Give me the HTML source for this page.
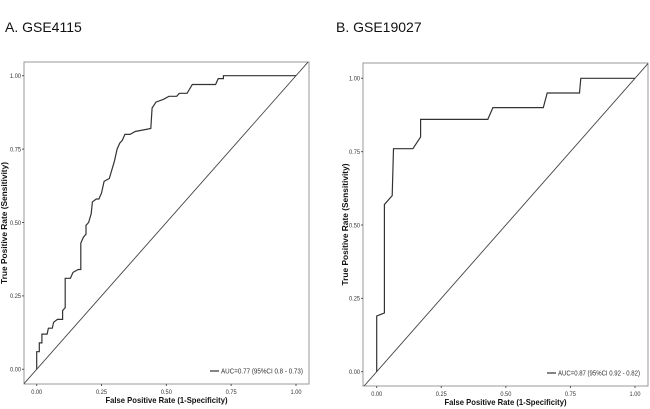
<!DOCTYPE html>
<html><head><meta charset="utf-8"><style>
body{margin:0;background:#fff;width:650px;height:409px;overflow:hidden;font-family:"Liberation Sans",sans-serif}
svg{position:absolute;left:0;top:0}
</style></head><body>
<svg id="chart" width="650" height="409" xmlns="http://www.w3.org/2000/svg"></svg>
<script>
const fprA=[0,0,0.01,0.01,0.02,0.02,0.04,0.045,0.06,0.065,0.08,0.1,0.1,0.11,0.11,0.13,0.14,0.16,0.17,0.17,0.18,0.19,0.19,0.2,0.21,0.215,0.23,0.24,0.25,0.26,0.28,0.29,0.3,0.31,0.32,0.33,0.34,0.36,0.38,0.44,0.445,0.46,0.49,0.51,0.54,0.55,0.58,0.6,0.69,0.7,0.72,0.72,1];
const tprA=[0,0.06,0.06,0.09,0.09,0.12,0.12,0.14,0.14,0.16,0.17,0.17,0.2,0.21,0.31,0.31,0.33,0.34,0.34,0.43,0.45,0.46,0.49,0.5,0.53,0.57,0.58,0.58,0.6,0.64,0.65,0.68,0.71,0.75,0.77,0.78,0.8,0.8,0.81,0.82,0.89,0.91,0.92,0.93,0.93,0.94,0.94,0.97,0.97,0.99,0.99,1,1];
const fprB=[0,0,0.03,0.03,0.06,0.065,0.14,0.17,0.17,0.43,0.45,0.645,0.66,0.785,0.79,1];
const tprB=[0,0.19,0.2,0.57,0.6,0.76,0.76,0.8,0.86,0.86,0.9,0.9,0.95,0.95,1,1];
const ticks=[0,0.25,0.5,0.75,1];
const tickLabels=["0.00","0.25","0.50","0.75","1.00"];
const NS="http://www.w3.org/2000/svg";
const svg=document.getElementById('chart');
function mk(tag,attrs,parent){const e=document.createElementNS(NS,tag);for(const k in attrs)e.setAttribute(k,attrs[k]);(parent||svg).appendChild(e);return e;}
function panel(p){
  const g=mk('g',{});
  
  
  const sx=v=>p.x0+(p.x1-p.x0)*v, sy=v=>p.y0+(p.y1-p.y0)*v;
  const t=mk('text',{x:p.tx,y:32,'font-size':14,fill:'#111'},g);t.textContent=p.title;
  
  
  const box=mk('rect',{x:p.L,y:p.T,width:p.R-p.L,height:p.B-p.T,fill:'none',stroke:'#999','stroke-width':1},g);
  
  
  const cp=mk('clipPath',{id:'c'+p.id},g);mk('rect',{x:p.L,y:p.T,width:p.R-p.L,height:p.B-p.T},cp);
  const ext=-0.2,ext2=1.2;
  const d=mk('line',{x1:sx(ext),y1:sy(ext),x2:sx(ext2),y2:sy(ext2),stroke:'#444','stroke-width':0.9,'clip-path':'url(#c'+p.id+')'},g);
  
  
  ticks.forEach((v,i)=>{
    mk('line',{x1:sx(v),x2:sx(v),y1:p.B,y2:p.B+2,stroke:'#555'},g);
    const a=mk('text',{x:sx(v),y:p.B+10,'font-size':6.5,'text-anchor':'middle',fill:'#333',textLength:11,lengthAdjust:'spacingAndGlyphs'},g);a.textContent=tickLabels[i];
    
    
    mk('line',{x1:p.L-2,x2:p.L,y1:sy(v),y2:sy(v),stroke:'#555'},g);
    const b=mk('text',{x:p.L-3,y:sy(v)+2.3,'font-size':6.5,'text-anchor':'end',fill:'#333',textLength:11,lengthAdjust:'spacingAndGlyphs'},g);b.textContent=tickLabels[i];
    
    
  });
  const xt=mk('text',{x:(p.L+p.R)/2,y:p.B+19,'font-size':8.5,'font-weight':'bold','text-anchor':'middle',fill:'#111',textLength:122,lengthAdjust:'spacingAndGlyphs'},g);xt.textContent='False Positive Rate (1-Specificity)';
  
  
  const yx=p.yx,yc=(p.T+p.B)/2;
  const yt=mk('text',{x:yx,y:yc+3,'font-size':8.5,'font-weight':'bold','text-anchor':'middle',fill:'#111',transform:`rotate(-90 ${yx} ${yc})`,textLength:122,lengthAdjust:'spacingAndGlyphs'},g);yt.textContent='True Positive Rate (Sensitivity)';
  
  
  const pts=p.fpr.map((f,i)=>sx(f).toFixed(1)+','+sy(p.tpr[i]).toFixed(1)).join(' ');
  const roc=mk('polyline',{points:pts,fill:'none',stroke:'#333','stroke-width':1.2},g);
  
  
  const ly=p.B-13;
  mk('line',{x1:p.lx,x2:p.lx+9,y1:ly,y2:ly,stroke:'#333','stroke-width':1.2},g);
  const lt=mk('text',{x:p.lx+11,y:ly+2.5,'font-size':7,fill:'#333',textLength:p.lw,lengthAdjust:'spacingAndGlyphs'},g);lt.textContent=p.legend;
  
  
}
panel({id:'a',title:'A. GSE4115',tx:5,L:24,T:62,R:309,B:384,x0:36.7,x1:296,y0:369.3,y1:75.7,fpr:fprA,tpr:tprA,lx:210,lw:82,yx:4,legend:'AUC=0.77 (95%CI 0.8 - 0.73)'});
panel({id:'b',title:'B. GSE19027',tx:336,L:363,T:63,R:648,B:386,x0:376.7,x1:635,y0:371.7,y1:78.3,fpr:fprB,tpr:tprB,lx:547,lw:82,yx:345,legend:'AUC=0.87 (95%CI 0.92 - 0.82)'});
</script>
</body></html>
